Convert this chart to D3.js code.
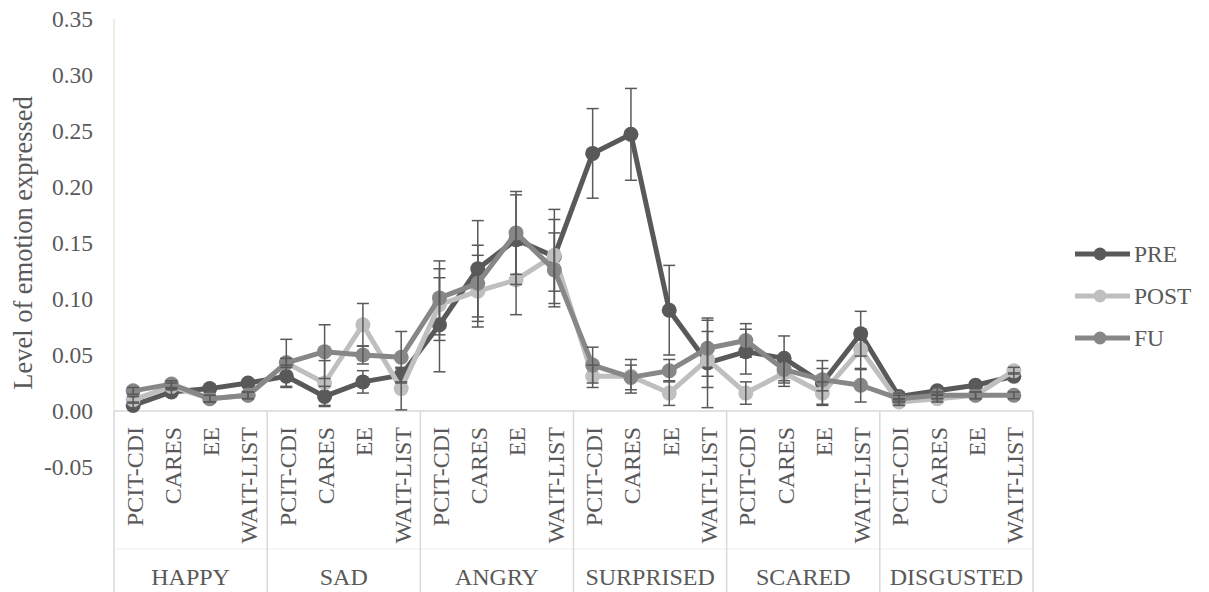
<!DOCTYPE html>
<html><head><meta charset="utf-8">
<script src="https://cdn.jsdelivr.net/npm/d3@7"></script>
<style>body{margin:0;background:#fff;} text{font-family:"Liberation Serif","Times New Roman",serif;fill:#595959;}</style>
</head><body><svg id="c" width="1209" height="592"></svg>
<script>
const groups = ["HAPPY","SAD","ANGRY","SURPRISED","SCARED","DISGUSTED"];
const categories = ["PCIT-CDI","CARES","EE","WAIT-LIST"];
const seriesNames = ["PRE","POST","FU"];
const yTicks = [-0.05,0,0.05,0.10,0.15,0.20,0.25,0.30,0.35];

const pre  = [0.005,0.017,0.020,0.025, 0.031,0.013,0.026,0.032, 0.077,0.127,0.153,0.138, 0.230,0.247,0.090,0.043, 0.053,0.047,0.025,0.069, 0.013,0.018,0.023,0.031];
const post = [0.010,0.022,0.011,0.014, 0.043,0.025,0.077,0.020, 0.095,0.107,0.117,0.139, 0.031,0.031,0.016,0.046, 0.016,0.034,0.016,0.055, 0.008,0.011,0.014,0.036];
const fu   = [0.018,0.024,0.011,0.014, 0.043,0.053,0.050,0.048, 0.101,0.114,0.159,0.126, 0.041,0.030,0.036,0.056, 0.063,0.037,0.028,0.023, 0.011,0.014,0.014,0.014];

const preErr  = [0.003,0.003,0.003,0.003, 0.010,0.009,0.010,0.006, 0.042,0.043,0.040,0.042, 0.040,0.041,0.040,0.040, 0.020,0.020,0.020,0.020, 0.003,0.003,0.003,0.003];
const postErr = [0.003,0.003,0.003,0.003, 0.004,0.020,0.019,0.019, 0.032,0.032,0.031,0.032, 0.010,0.015,0.011,0.025, 0.010,0.012,0.010,0.018, 0.003,0.003,0.003,0.003];
const fuErr   = [0.003,0.003,0.003,0.003, 0.021,0.024,0.008,0.023, 0.033,0.034,0.037,0.033, 0.016,0.011,0.010,0.025, 0.015,0.012,0.010,0.015, 0.003,0.003,0.003,0.003];

const colors = ["#595959","#bfbfbf","#878787"];
const seriesVals = [pre, post, fu];
const seriesErrs = [preErr, postErr, fuErr];

const svg = d3.select("#c");
const L = 114, R = 1033, T = 19, B = 467;
const y = d3.scaleLinear().domain([-0.05,0.35]).range([B,T]);
const idx = d3.range(groups.length*categories.length);
const x = d3.scaleBand().domain(idx).range([L,R]);
const cx = i => x(i) + x.bandwidth()/2;
const y0 = y(0);

// y axis line
svg.append("line").attr("x1",L).attr("x2",L).attr("y1",T).attr("y2",y0).attr("stroke","#ece8dc").attr("stroke-width",1.5);
// y tick labels
svg.selectAll(".yt").data(yTicks).enter().append("text")
  .attr("x",93).attr("y",d=>y(d)).attr("dy","0.35em").attr("text-anchor","end")
  .style("font-size","23.5px").text(d=>d3.format(".2f")(d).replace("\u2212","-"));
// y title
svg.append("text").attr("transform",`translate(32,${(T+B)/2}) rotate(-90)`)
  .attr("text-anchor","middle").style("font-size","26.5px").text("Level of emotion expressed");

// category axis
const axisCol = "#d9d9d9";
svg.append("line").attr("x1",L).attr("x2",R).attr("y1",y0).attr("y2",y0).attr("stroke",axisCol).attr("stroke-width",1.5);
svg.append("line").attr("x1",L).attr("x2",R).attr("y1",549).attr("y2",549).attr("stroke","#eeeeee").attr("stroke-width",1);
const gw = x.step()*categories.length;
d3.range(groups.length+1).forEach(g=>{
  const gx = L + g*gw;
  svg.append("line").attr("x1",gx).attr("x2",gx).attr("y1",y0).attr("y2",592).attr("stroke",axisCol).attr("stroke-width",1.5);
});
svg.selectAll(".ct").data(idx).enter().append("text")
  .attr("transform",i=>`translate(${cx(i)+1},427) rotate(-90)`)
  .attr("dy","0.35em").attr("text-anchor","end").style("font-size","24px")
  .text(i=>categories[i%categories.length]);
svg.selectAll(".gt").data(groups).enter().append("text")
  .attr("x",(d,g)=>L+g*gw+gw/2).attr("y",577).attr("dy","0.35em").attr("text-anchor","middle")
  .style("font-size","24px").text(d=>d);

// series lines & markers
const line = d3.line().x((d,i)=>cx(i)).y(d=>y(d));
seriesVals.forEach((vals,s)=>{
  svg.append("path").datum(vals).attr("d",line).attr("fill","none")
    .attr("stroke",colors[s]).attr("stroke-width",5).attr("stroke-linejoin","round");
  svg.selectAll(".m"+s).data(vals).enter().append("circle")
    .attr("cx",(d,i)=>cx(i)).attr("cy",d=>y(d)).attr("r",7.5).attr("fill",colors[s]);
});
// error bars
seriesVals.forEach((vals,s)=>{
  const errs = seriesErrs[s];
  const g = svg.append("g").attr("stroke","#595959").attr("stroke-width",1.5);
  vals.forEach((v,i)=>{
    const xi = cx(i), yt = y(v+errs[i]), yb = y(v-errs[i]);
    g.append("line").attr("x1",xi).attr("x2",xi).attr("y1",yt).attr("y2",yb);
    g.append("line").attr("x1",xi-6).attr("x2",xi+6).attr("y1",yt).attr("y2",yt);
    g.append("line").attr("x1",xi-6).attr("x2",xi+6).attr("y1",yb).attr("y2",yb);
  });
});

// legend
const leg = svg.append("g");
seriesNames.forEach((n,s)=>{
  const ly = 254 + s*42;
  leg.append("line").attr("x1",1075).attr("x2",1130).attr("y1",ly).attr("y2",ly).attr("stroke",colors[s]).attr("stroke-width",5);
  leg.append("circle").attr("cx",1100).attr("cy",ly).attr("r",6.5).attr("fill",colors[s]);
  leg.append("text").attr("x",1134).attr("y",ly).attr("dy","0.35em").style("font-size","23.5px").text(n);
});
</script></body></html>
